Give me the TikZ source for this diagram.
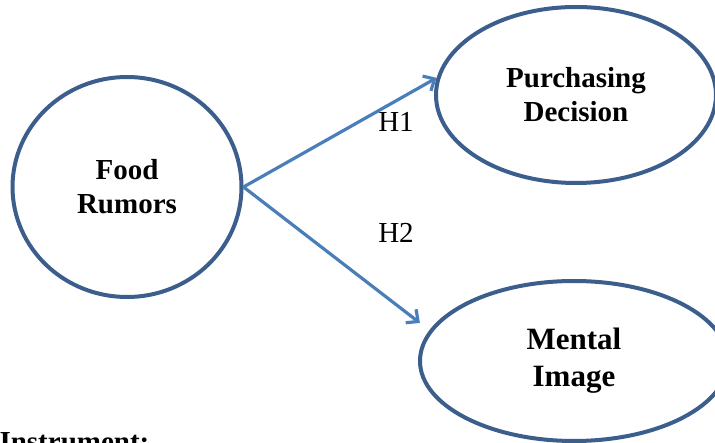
\documentclass[tikz,border=0pt]{standalone}
\usepackage{fontspec}
\setmainfont{Liberation Serif}
\usepackage{tikz}
\usetikzlibrary{shapes.geometric,arrows.meta}
\definecolor{ringblue}{HTML}{3B5E8C}
\definecolor{arrowblue}{HTML}{4A7EBB}

\begin{document}
\begin{tikzpicture}[x=1pt, y=-1pt,
        construct/.style={ellipse, draw=ringblue, line width=4pt, align=center,
            font=\fontsize{29}{34}\selectfont\bfseries},
        link/.style={draw=arrowblue, line width=3.2pt,
            -{Straight Barb[length=9pt,width=17pt,line width=3.2pt]}},
        hyp/.style={font=\fontsize{29}{34}\selectfont}]
        \useasboundingbox (0,0) rectangle (715,443);

        \node[construct, minimum width=229pt, minimum height=220pt]
            (rumors) at (127,187) {Food\\Rumors};
        \node[construct, minimum width=280pt, minimum height=176pt]
            (purchase) at (576,95) {Purchasing\\Decision};
        \node[construct, minimum width=308pt, minimum height=160pt,
            font=\fontsize{31}{37}\selectfont\bfseries]
            (mental) at (574,361) {Mental\\Image};

        % hypotheses
        \draw[link] (rumors.east) -- (purchase.173);
        \draw[link, shorten >=12pt] (rumors.east) -- (mental.168);
        \node[hyp] (h1) at (396,122) {H1};
        \node[hyp] (h2) at (396,233) {H2};

        \node[anchor=base west, font=\fontsize{29}{34}\selectfont\bfseries]
            (instr) at (-4,452) {Instrument:};
\end{tikzpicture}
\end{document}
